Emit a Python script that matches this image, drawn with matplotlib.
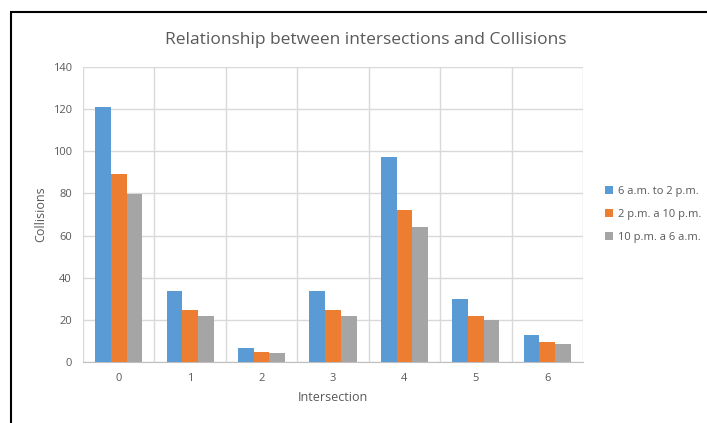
import numpy as np
import matplotlib.pyplot as plt
from matplotlib.patches import Rectangle

# Datos
intersecciones = ['0', '1', '2', '3', '4', '5', '6']
turno_manana = [121, 33.5, 6.5, 33.5, 97.5, 30, 13]
turno_tarde = [89, 24.7, 4.8, 24.7, 72, 22, 9.5]
turno_noche = [79.5, 22, 4.2, 22, 64.3, 19.8, 8.6]
series = ['6 a.m. to 2 p.m.', '2 p.m. a 10 p.m.', '10 p.m. a 6 a.m.']
colores = ['#5B9BD5', '#ED7D31', '#A5A5A5']

plt.rcParams['font.family'] = ['Open Sans', 'DejaVu Sans']
gris_texto = '#595959'

fig = plt.figure(figsize=(7.07, 4.23), dpi=100)
ax = fig.add_axes([0.1174, 0.1442, 0.7072, 0.6974])

x = np.arange(len(intersecciones))
ancho = 0.22
for i, (valores, nombre, color) in enumerate(zip([turno_manana, turno_tarde, turno_noche], series, colores)):
    ax.bar(x + (i - 1) * ancho, valores, ancho, color=color, label=nombre, zorder=3)

ax.set_xlim(-0.5, len(intersecciones) - 0.5)
ax.set_ylim(0, 140)
ax.set_yticks(range(0, 141, 20))
ax.set_xticks(x)
ax.set_xticklabels(intersecciones)

# rejilla estilo Excel: horizontales y separadores de categoria
ax.set_xticks(np.arange(-0.5, len(intersecciones), 1), minor=True)
ax.grid(True, axis='y', color='#d9d9d9', linewidth=1, zorder=0)
ax.grid(True, axis='x', which='minor', color='#d9d9d9', linewidth=1, zorder=0)
ax.tick_params(which='both', length=0)
ax.tick_params(axis='both', labelsize=8, colors=gris_texto, pad=8)

for lado in ['top', 'right', 'left']:
    ax.spines[lado].set_visible(False)
ax.spines['bottom'].set_color('#bfbfbf')

ax.set_xlabel('Intersection', fontsize=9, color=gris_texto, labelpad=5)
ax.set_ylabel('Collisions', fontsize=9, color=gris_texto, labelpad=4)
fig.text(0.518, 0.905, 'Relationship between intersections and Collisions',
         ha='center', va='center', fontsize=12.5, color=gris_texto)

ax.legend(loc='center left', bbox_to_anchor=(1.025, 0.5), frameon=False,
          fontsize=8, labelcolor=gris_texto, handlelength=0.7, handleheight=0.7,
          handletextpad=0.4, labelspacing=1.1)

# marco negro de la figura
fig.patches.append(Rectangle((11 / 707, -0.1), 1.2, 1 - 12 / 423 + 0.1,
                             transform=fig.transFigure, fill=False,
                             edgecolor='black', linewidth=1.5))

fig.savefig('out.png', dpi=100)
